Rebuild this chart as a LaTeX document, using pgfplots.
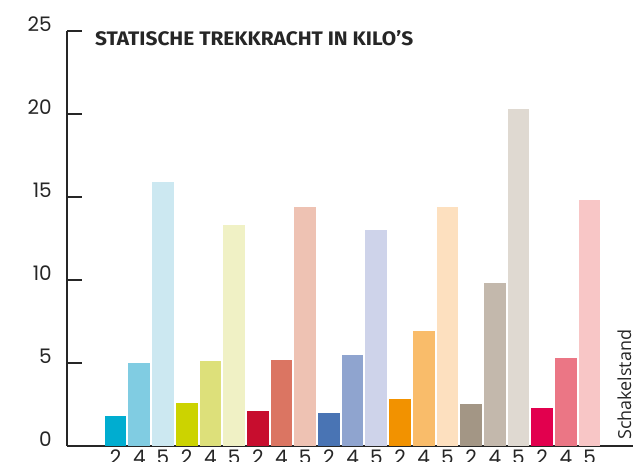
\documentclass[border=0pt]{standalone}
\usepackage{fontspec}
\usepackage{pgfplots}
\pgfplotsset{compat=1.18}
\setmainfont{Poppins}
\newfontfamily\titlefont{Fira Sans}
\newfontfamily\labfont{Open Sans}
\definecolor{c1}{HTML}{00ADD0}
\definecolor{c2}{HTML}{80CCE2}
\definecolor{c3}{HTML}{CCE8F1}
\definecolor{c4}{HTML}{CCD300}
\definecolor{c5}{HTML}{DDE07A}
\definecolor{c6}{HTML}{F0F1C5}
\definecolor{c7}{HTML}{C70D2E}
\definecolor{c8}{HTML}{DB7562}
\definecolor{c9}{HTML}{EEC2B3}
\definecolor{c10}{HTML}{4974B4}
\definecolor{c11}{HTML}{8FA4CF}
\definecolor{c12}{HTML}{CED3EA}
\definecolor{c13}{HTML}{F29200}
\definecolor{c14}{HTML}{F9BC6A}
\definecolor{c15}{HTML}{FDE0BF}
\definecolor{c16}{HTML}{A39685}
\definecolor{c17}{HTML}{C3B8AC}
\definecolor{c18}{HTML}{DFD9D1}
\definecolor{c19}{HTML}{E2004E}
\definecolor{c20}{HTML}{EB7685}
\definecolor{c21}{HTML}{F8C6C6}
\definecolor{axc}{HTML}{262626}
\begin{document}
\begin{tikzpicture}
\path[use as bounding box] (0,0) rectangle (640pt,462pt);
\begin{axis}[
  at={(67pt,16pt)}, anchor=south west,
  scale only axis, width=566pt, height=415pt,
  xmin=-2.05, xmax=21.83, ymin=0, ymax=25,
  axis x line=bottom, axis y line=left,
  axis line style={-, line width=1.2pt, color=axc},
  ytick={0,5,10,15,20,25},
  tick align=inside, major tick length=15pt,
  y tick style={line width=1.2pt, color=axc},
  xtick={0,...,20},
  xticklabels={2,4,5,2,4,5,2,4,5,2,4,5,2,4,5,2,4,5,2,4,5},
  x tick style={draw=none},
  /pgf/number format/assume math mode=true,
  ticklabel style={font=\fontsize{20}{24}\selectfont, color=axc},
  yticklabel style={anchor=east, inner sep=0pt, xshift=-15pt, yshift=7pt},
  xticklabel style={anchor=north, inner sep=0pt, yshift=11pt},
  ybar, bar shift=0pt, bar width=0.915,
  clip=false,
]
\addplot[fill=c1, draw=none] coordinates {(0,1.81)};
\addplot[fill=c2, draw=none] coordinates {(1,5.0)};
\addplot[fill=c3, draw=none] coordinates {(2,15.9)};
\addplot[fill=c4, draw=none] coordinates {(3,2.59)};
\addplot[fill=c5, draw=none] coordinates {(4,5.12)};
\addplot[fill=c6, draw=none] coordinates {(5,13.3)};
\addplot[fill=c7, draw=none] coordinates {(6,2.11)};
\addplot[fill=c8, draw=none] coordinates {(7,5.18)};
\addplot[fill=c9, draw=none] coordinates {(8,14.4)};
\addplot[fill=c10, draw=none] coordinates {(9,1.99)};
\addplot[fill=c11, draw=none] coordinates {(10,5.48)};
\addplot[fill=c12, draw=none] coordinates {(11,13.0)};
\addplot[fill=c13, draw=none] coordinates {(12,2.83)};
\addplot[fill=c14, draw=none] coordinates {(13,6.93)};
\addplot[fill=c15, draw=none] coordinates {(14,14.4)};
\addplot[fill=c16, draw=none] coordinates {(15,2.53)};
\addplot[fill=c17, draw=none] coordinates {(16,9.82)};
\addplot[fill=c18, draw=none] coordinates {(17,20.3)};
\addplot[fill=c19, draw=none] coordinates {(18,2.29)};
\addplot[fill=c20, draw=none] coordinates {(19,5.30)};
\addplot[fill=c21, draw=none] coordinates {(20,14.8)};
\end{axis}
\node[anchor=base west, inner sep=0pt, color=axc] at (95pt,416pt)
  {\resizebox{318pt}{15pt}{\titlefont\bfseries STATISCHE TREKKRACHT IN KILO’S}};
\node[rotate=90, anchor=base west, inner sep=0pt, color=axc] at (631pt,22pt)
  {\resizebox{110pt}{!}{\labfont Schakelstand}};
\end{tikzpicture}
\end{document}
